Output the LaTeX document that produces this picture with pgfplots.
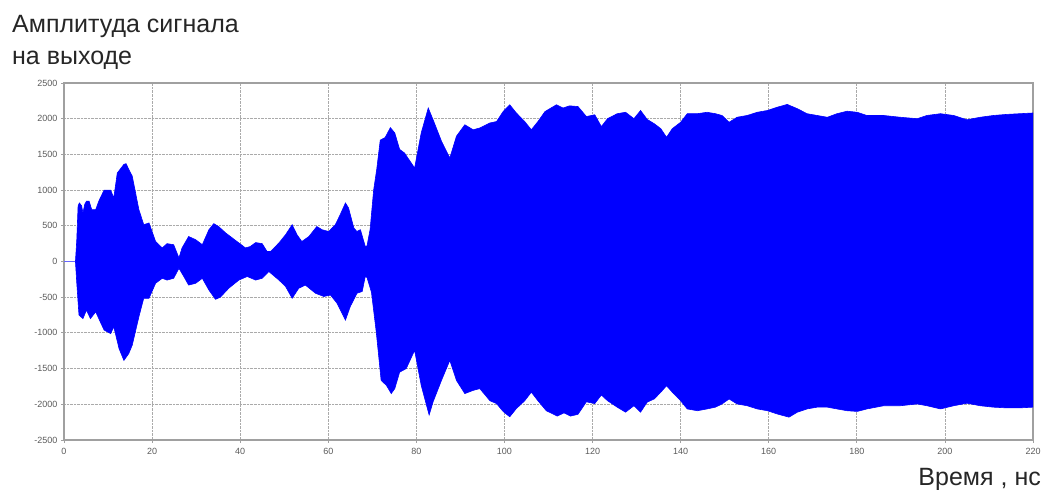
\documentclass[border=0pt]{standalone}
\usepackage{fontspec}
\setmainfont{Liberation Sans}
\usepackage{pgfplots}
\pgfplotsset{compat=1.18}
\usepgfplotslibrary{fillbetween}
\definecolor{sig}{RGB}{0,0,255}
\definecolor{axgray}{RGB}{160,160,160}
\definecolor{gridgray}{RGB}{170,170,170}
\definecolor{ticktext}{RGB}{90,90,90}
\begin{document}
\begin{tikzpicture}
\begin{axis}[
  at={(64bp,50bp)}, anchor=south west,
  scale only axis, width=969bp, height=357bp,
  xmin=0, xmax=220, ymin=-2500, ymax=2500,
  xtick={0,20,...,220}, ytick={-2500,-2000,...,2500},
  grid=major,
  major grid style={gridgray, densely dotted, line width=0.8bp},
  axis line style={axgray, line width=1.6bp},
  tick style={axgray, line width=0.8bp},
  tick pos=left, tick align=outside, major tick length=3bp,
  ticklabel style={font=\fontsize{9bp}{10bp}\selectfont, text=ticktext},
  /pgf/number format/assume math mode=true,
  /pgf/number format/1000 sep={},
  xticklabel style={yshift=-2bp},
]
\addplot[sig!60, line width=1bp] coordinates {(0,0) (2.8,0)};
\addplot[name path=up, sig, line width=0.6bp] coordinates {
(2.6,0) (2.9,300) (3.2,780) (3.5,820) (4.0,780) (4.3,680) (4.7,800) (5.1,845) (5.7,845) (6.3,725) (7.2,727) (7.9,845) (9.1,1000) (10.6,1000) (11.3,890) (12.1,1240) (13.6,1360) (14.1,1370) (14.7,1290) (15.5,1195) (17,727) (18.1,516) (19.3,540) (20.8,280) (22.3,190) (23.4,250) (24.9,235) (26.1,50) (26.8,190) (28.3,350) (29.9,305) (31.4,235) (32.9,445) (34,530) (35.1,490) (36.7,400) (38.2,330) (39.7,260) (41.2,190) (42.3,210) (43.5,265) (45,250) (46.1,140) (46.9,140) (48.8,260) (50.3,375) (51.8,515) (52.9,375) (54,280) (55.6,350) (57.4,490) (58.6,445) (60.1,420) (61.6,515) (62.7,655) (63.9,820) (64.6,750) (65.8,470) (66.5,420) (67.3,445) (68.4,210) (68.8,220) (69.5,450) (70.3,1000) (71,1290) (71.8,1700) (72.9,1735) (74.1,1875) (75.1,1800) (76.2,1570) (77.3,1520) (79.6,1310) (81.1,1800) (82.7,2150) (83.8,1985) (85.7,1685) (87.6,1450) (89.1,1755) (91,1915) (92.9,1845) (94.4,1870) (96.7,1940) (98.2,1960) (99.7,2100) (101.2,2195) (102.7,2080) (104.6,1960) (106.1,1845) (107.6,1960) (109.2,2100) (111.8,2195) (113.3,2150) (114.8,2180) (116.7,2170) (118.6,2030) (120.5,2055) (122,1890) (123.4,2000) (125.6,2070) (127.5,2090) (129.4,2000) (130.9,2115) (132.4,1990) (134,1930) (135.5,1860) (136.8,1740) (138.1,1860) (140,1950) (141.5,2070) (143.8,2070) (146,2090) (147.9,2070) (149.4,2045) (151,1950) (152.8,2020) (155.1,2045) (157.4,2090) (159.7,2115) (161.9,2160) (164.2,2200) (166.5,2140) (168.7,2070) (171,2045) (173.3,2020) (175.5,2070) (177.8,2105) (180.1,2090) (182.3,2045) (186.1,2045) (189.9,2020) (193.7,2000) (195.9,2045) (199,2070) (202,2045) (205,1985) (208,2020) (211,2045) (214,2060) (217,2070) (220,2080)
};
\addplot[name path=lo, sig, line width=0.6bp] coordinates {
(2.6,0) (2.9,-300) (3.4,-750) (4.3,-800) (5.1,-680) (6,-800) (7.2,-705) (7.9,-800) (9.1,-960) (10.6,-1010) (11.3,-915) (12.5,-1220) (13.6,-1385) (14.7,-1290) (15.5,-1170) (17,-775) (18.1,-515) (19.3,-515) (20.8,-305) (22.3,-235) (23.4,-260) (24.9,-235) (26.1,-95) (27.2,-210) (28.3,-330) (29.9,-305) (31.4,-235) (32.9,-400) (34.4,-530) (35.5,-500) (37.4,-375) (39.7,-260) (41.6,-210) (43.5,-260) (45,-235) (46.5,-140) (48.8,-260) (50.3,-350) (51.8,-515) (53.3,-375) (54.8,-330) (57.1,-445) (59,-490) (60.5,-470) (62,-585) (63.9,-820) (65,-630) (66.5,-445) (67.7,-420) (68.4,-210) (68.8,-225) (69.8,-430) (70.9,-990) (72,-1665) (73.2,-1735) (74.3,-1850) (75.1,-1780) (76.2,-1550) (77.7,-1500) (79.6,-1245) (81.1,-1735) (82.9,-2150) (83.8,-1965) (85.7,-1665) (87.6,-1385) (89.1,-1665) (91,-1850) (92.9,-1805) (94.4,-1780) (96.7,-1950) (98.2,-1990) (99.7,-2100) (101.2,-2175) (102.7,-2060) (104.6,-1950) (106.1,-1830) (107.6,-1950) (109.5,-2090) (112,-2165) (113.5,-2120) (115,-2165) (116.7,-2140) (118.6,-1965) (120.5,-1990) (122,-1870) (123.4,-1950) (125.6,-2040) (127.5,-2110) (129.4,-2020) (130.9,-2110) (132.4,-1970) (134,-1925) (135.5,-1830) (136.8,-1740) (138.1,-1830) (140,-1950) (141.5,-2065) (143.8,-2090) (146,-2065) (147.9,-2040) (149.4,-1995) (151,-1925) (152.8,-1995) (155.1,-2020) (157.4,-2065) (159.7,-2090) (161.9,-2135) (164.6,-2180) (166.5,-2110) (168.7,-2065) (171,-2040) (173.3,-2040) (175.5,-2065) (177.8,-2090) (180.1,-2100) (182.3,-2065) (186.1,-2020) (189.9,-2020) (193.7,-1995) (195.9,-2020) (199,-2065) (202,-2020) (205,-1985) (208,-2020) (211,-2040) (214,-2050) (217,-2050) (220,-2040)
};
\addplot[sig] fill between[of=up and lo];
\end{axis}
\node[anchor=base west, inner sep=0pt, font=\fontsize{25bp}{30bp}\selectfont, text=black!85] at (12bp,457bp) {Амплитуда сигнала};
\node[anchor=base west, inner sep=0pt, font=\fontsize{25bp}{30bp}\selectfont, text=black!85] at (12bp,425bp) {на выходе};
\node[anchor=base east, inner sep=0pt, font=\fontsize{25bp}{30bp}\selectfont, text=black!85] at (1041bp,5bp) {Время , нс};
\pgfresetboundingbox
\path[use as bounding box] (0,0) rectangle (1043bp,490bp);
\end{tikzpicture}
\end{document}
